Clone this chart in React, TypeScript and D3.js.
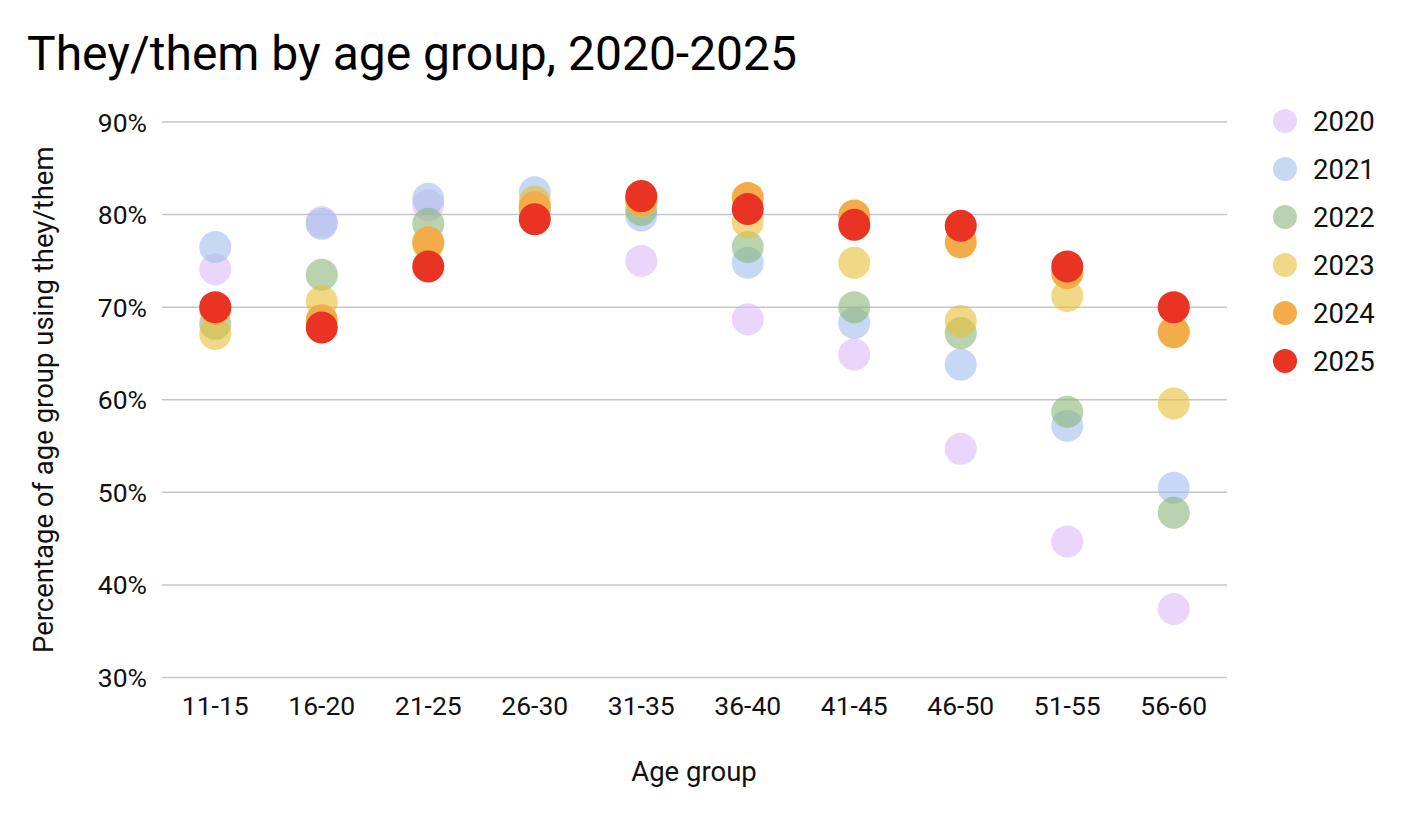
import * as d3 from "d3";

// age groups on the x axis
const ageGroups = ["11-15", "16-20", "21-25", "26-30", "31-35", "36-40", "41-45", "46-50", "51-55", "56-60"];

// percentage of each age group using they/them, one array per survey year
const pct2020 = [74.1, 79.2, 81.0, 80.0, 75.0, 68.7, 64.9, 54.7, 44.7, 37.4];
const pct2021 = [76.5, 79.0, 81.7, 82.4, 79.9, 74.8, 68.3, 63.8, 57.2, 50.5];
const pct2022 = [68.2, 73.5, 79.0, 80.6, 80.5, 76.5, 70.0, 67.2, 58.7, 47.8];
const pct2023 = [67.1, 70.6, 76.8, 81.4, 81.4, 79.2, 74.8, 68.5, 71.2, 59.6];
const pct2024 = [69.8, 68.6, 77.0, 80.8, 81.6, 81.8, 79.9, 77.0, 73.7, 67.3];
const pct2025 = [70.0, 67.8, 74.4, 79.5, 82.0, 80.6, 78.9, 78.8, 74.4, 70.0];

const years = ["2020", "2021", "2022", "2023", "2024", "2025"];
const yTicks = [30, 40, 50, 60, 70, 80, 90];

const seriesValues = [pct2020, pct2021, pct2022, pct2023, pct2024, pct2025];
const seriesColors = ["#dcbbf7", "#a0beeb", "#8ab678", "#e8be35", "#f2ad4a", "#e93323"];
const seriesOpacity = [0.6, 0.6, 0.6, 0.6, 1, 1];

const W = 1402;
const H = 822;
const margin = { top: 122, right: 175, bottom: 144.5, left: 162 };
const font = "Roboto, 'Noto Sans', sans-serif";

export default function App() {
  const x = d3
    .scalePoint<string>()
    .domain(ageGroups)
    .range([margin.left, W - margin.right])
    .padding(0.5);

  const y = d3
    .scaleLinear()
    .domain([30, 90])
    .range([H - margin.bottom, margin.top]);

  const legendY = d3
    .scalePoint<string>()
    .domain(years)
    .range([121, 121 + 48 * 5]);

  return (
    <svg
      width={W}
      height={H}
      style={{ position: "absolute", left: 0, top: 0, background: "#fff" }}
      fontFamily={font}
    >
      {/* title */}
      <text x={27} y={70} fontSize={48} fill="#000">
        They/them by age group, 2020-2025
      </text>

      {/* grid + y ticks */}
      {yTicks.map((t) => (
        <g key={t}>
          <line
            x1={margin.left}
            x2={W - margin.right}
            y1={y(t)}
            y2={y(t)}
            stroke="#c6c6c6"
            strokeWidth={1.5}
          />
          <text x={147} y={y(t) + 9.5} textAnchor="end" fontSize={26.5} fill="#111">
            {t}%
          </text>
        </g>
      ))}

      {/* x ticks */}
      {ageGroups.map((g) => (
        <text key={g} x={x(g)} y={715} textAnchor="middle" fontSize={26.5} fill="#111">
          {g}
        </text>
      ))}

      {/* axis titles */}
      <text x={694} y={781} textAnchor="middle" fontSize={27.5} fill="#111">
        Age group
      </text>
      <text
        transform={`translate(53,${(y(90) + y(30)) / 2}) rotate(-90)`}
        textAnchor="middle"
        fontSize={27.5}
        fill="#111"
      >
        Percentage of age group using they/them
      </text>

      {/* points */}
      {seriesValues.map((vals, si) => (
        <g key={years[si]} fill={seriesColors[si]} fillOpacity={seriesOpacity[si]}>
          {vals.map((v, i) => (
            <circle key={i} cx={x(ageGroups[i])} cy={y(v)} r={16} />
          ))}
        </g>
      ))}

      {/* legend */}
      {years.map((yr, si) => (
        <g key={yr} transform={`translate(0,${legendY(yr)})`}>
          <circle cx={1285} cy={0} r={12} fill={seriesColors[si]} fillOpacity={seriesOpacity[si]} />
          <text x={1313} y={10} fontSize={27.5} fill="#111">
            {yr}
          </text>
        </g>
      ))}
    </svg>
  );
}
